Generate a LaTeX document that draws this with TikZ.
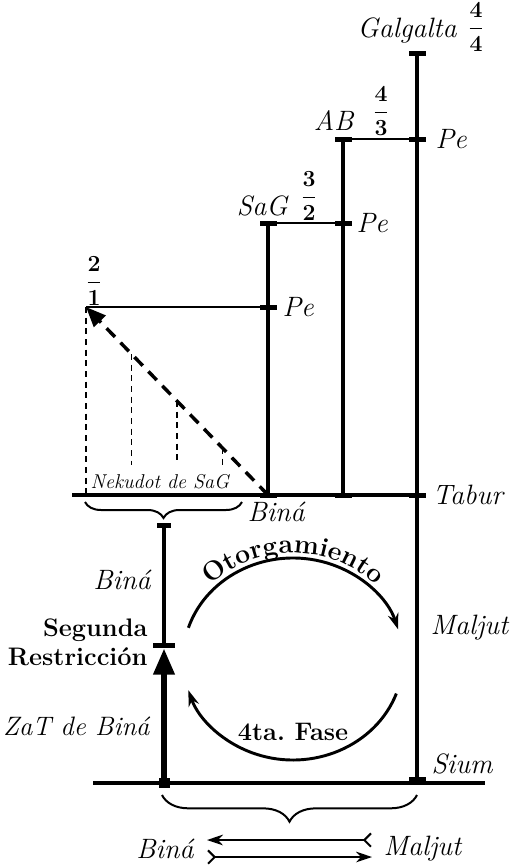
\documentclass[tikz,border=0pt]{standalone}
\usetikzlibrary{arrows.meta,calc,decorations.pathreplacing,decorations.text}

\tikzset{every picture/.style={line width=0.75pt}}
\tikzset{
  mainbar/.style={line width=3pt},
  thinlink/.style={line width=1.1pt},
  thindash/.style={line width=0.8pt,dash pattern={on 4.5pt off 3.5pt}},
  tickmark/.style={fill=black,inner sep=0pt,minimum width=12.75pt,minimum height=3.75pt},
  itlabel/.style={inner sep=0.75pt,font=\fontsize{21}{24}\selectfont\itshape},
  bflabel/.style={inner sep=0.75pt,font=\fontsize{19}{22}\selectfont\bfseries},
  fraclabel/.style={inner sep=0.75pt,font=\fontsize{19}{22}\selectfont\boldmath},
  loopline/.style={line width=2.2pt,-{Stealth[length=12pt,width=8pt]}},
}

\begin{document}
\begin{tikzpicture}[x=0.75pt,y=0.75pt,yscale=-1,xscale=1]
\useasboundingbox (0,0) rectangle (516,867);

%Points
\coordinate (gTop) at (417,54);
\coordinate (gPe) at (417,139);
\coordinate (gTab) at (417,495);
\coordinate (gSium) at (417,783);
\coordinate (abTop) at (343,139);
\coordinate (abPe) at (343,223);
\coordinate (abTab) at (343,495);
\coordinate (sgTop) at (268,223);
\coordinate (sgPe) at (268,307);
\coordinate (sgTab) at (268,495);
\coordinate (p21) at (86,307);
\coordinate (p21b) at (86,495);
\coordinate (tabL) at (72,495);
\coordinate (siumL) at (93,783);
\coordinate (siumR) at (485,783);
\coordinate (bnTop) at (164,525);
\coordinate (bnSeg) at (164,645);
\coordinate (bnTip) at (164,648);
\coordinate (bnSium) at (164,783);
\coordinate (nkBase) at (0,465);
\coordinate (ctr) at (293,659);

%Straight Lines
\draw [mainbar] (gTop) -- (gSium) ;
\draw [mainbar] (abTop) -- (abTab) ;
\draw [mainbar] (sgTop) -- (sgTab) ;
\draw [mainbar] (tabL) -- (gTab) ;
\draw [mainbar] (siumL) -- (siumR) ;
\draw [mainbar] (bnTop) -- (bnSeg) ;
\draw [line width=5pt,-{Triangle[length=20pt,width=15pt]}] (bnSium) -- (bnTip) ;
%Straight Lines
\draw [thinlink] (p21) -- (sgPe) ;
\draw [thinlink] (sgTop) -- (abPe) ;
\draw [thinlink] (abTop) -- (gPe) ;
%Dashed Lines
\draw [line width=2.6pt,dash pattern={on 9pt off 6pt},-{Triangle[length=15pt,width=12pt]}] (sgTab) -- (p21) ;
\draw [thindash] (p21) -- (p21b) ;
\foreach \t/\n in {0.25/1,0.5/2,0.75/3}{
  \coordinate (nk\n) at ($(p21)!\t!(sgTab)$);
  \draw [thindash] (nk\n) -- (nk\n |- nkBase) ;
}

%Ticks
\node [tickmark] (tgTop) at (gTop) {};
\node [tickmark] (tgPe) at (gPe) {};
\node [tickmark] (tgTab) at (gTab) {};
\node [tickmark,minimum height=4.5pt] (tgSium) at (417,780) {};
\node [tickmark] (tabTop) at (abTop) {};
\node [tickmark] (tabPe) at (abPe) {};
\node [tickmark] (tabTab) at (abTab) {};
\node [tickmark] (tsgTop) at (sgTop) {};
\node [tickmark] (tsgPe) at (sgPe) {};
\node [tickmark] (tsgTab) at (sgTab) {};
\node [tickmark,minimum width=10.5pt] (tbnTop) at (bnTop) {};
\node [tickmark,minimum width=16.5pt] (tbnSeg) at (bnSeg) {};
\node [tickmark,minimum width=8.25pt,minimum height=7.5pt] (tbnSium) at (bnSium) {};

%Braces
\coordinate (brAL) at (85,502);
\coordinate (brAR) at (242,502);
\coordinate (brBL) at (162,795);
\coordinate (brBR) at (417,795);
\draw [line width=1.5pt,decorate,decoration={brace,mirror,amplitude=12pt}] (brAL) -- (brAR) ;
\draw [line width=1.5pt,decorate,decoration={brace,mirror,amplitude=20pt}] (brBL) -- (brBR) ;

%Curved Arrows
\draw [loopline] ($(ctr)+(-162:110 and 101)$) arc [start angle=-162,end angle=-17,x radius=110,y radius=101] ;
\draw [loopline] ($(ctr)+(20:110 and 101)$) arc [start angle=20,end angle=162,x radius=110,y radius=101] ;
\path [decorate,decoration={text along path,text align=center,text={|\fontsize{20}{22}\selectfont\bfseries|Otorgamiento}}] ($(ctr)+(-158:115 and 106)$) arc [start angle=-158,end angle=-22,x radius=115,y radius=106] ;

%Bottom Arrows
\coordinate (a1R) at (372,840);
\coordinate (a1L) at (207,840);
\coordinate (a2L) at (207,857);
\coordinate (a2R) at (372,857);
\draw [line width=1.5pt,{Straight Barb[reversed,length=5pt,width=10pt]}-{Stealth[length=12pt,width=8pt]}] (a1R) -- (a1L) ;
\draw [line width=1.5pt,{Straight Barb[reversed,length=5pt,width=10pt]}-{Stealth[length=12pt,width=8pt]}] (a2L) -- (a2R) ;

% Text Node
\node [itlabel,anchor=base east] (galg) at (458,38) {Galgalta};
% Text Node
\node [fraclabel] (f44) at (476,27) {$\displaystyle\frac{4}{4}$};
% Text Node
\node [itlabel,anchor=base east] (abl) at (355,130) {AB};
% Text Node
\node [fraclabel] (f43) at (381,111) {$\displaystyle\frac{4}{3}$};
% Text Node
\node [itlabel,anchor=west] (pe1) at (434,139) {Pe};
% Text Node
\node [itlabel,anchor=base east] (sgl) at (289,215) {SaG};
% Text Node
\node [fraclabel] (f32) at (309,196) {$\displaystyle\frac{3}{2}$};
% Text Node
\node [itlabel,anchor=west] (pe2) at (355,223) {Pe};
% Text Node
\node [itlabel,anchor=west] (pe3) at (281,307) {Pe};
% Text Node
\node [fraclabel] (f21) at (94,281) {$\displaystyle\frac{2}{1}$};
% Text Node
\node [inner sep=0.75pt,font=\fontsize{15}{17}\selectfont\itshape] (nek) at (160,482) {Nekudot de SaG};
% Text Node
\node [itlabel,anchor=west] (tab) at (431,495) {Tabur};
% Text Node
\node [itlabel,anchor=west] (bna) at (246,512) {Biná};
% Text Node
\node [itlabel,anchor=east] (bnb) at (152,580) {Biná};
% Text Node
\node [bflabel,anchor=east,align=right] (seg) at (149,642) {Segunda\\Restricción};
% Text Node
\node [itlabel,anchor=east,font=\fontsize{20}{22}\selectfont\itshape] (zat) at (151,726) {ZaT de Biná};
% Text Node
\node [itlabel,anchor=west] (mal) at (429,628) {Maljut};
% Text Node
\node [itlabel,anchor=west] (sium) at (430,764) {Sium};
% Text Node
\node [bflabel,font=\fontsize{19}{22}\selectfont\bfseries\frenchspacing] (fase) at (293,732) {4ta. Fase};
% Text Node
\node [itlabel,anchor=east] (bnc) at (195,849) {Biná};
% Text Node
\node [itlabel,anchor=west] (malb) at (382,849) {Maljut};

\end{tikzpicture}
\end{document}
